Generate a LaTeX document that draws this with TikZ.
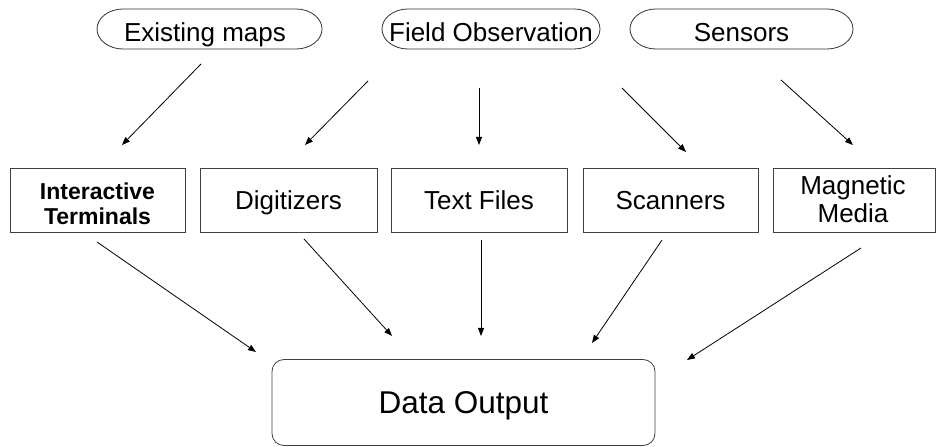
\documentclass[tikz,border=0pt]{standalone}
\usepackage{fontspec}
\setmainfont{Liberation Sans}
\usetikzlibrary{arrows.meta}
\begin{document}
\begin{tikzpicture}[x=1pt,y=1pt,
  lbl/.style={font=\fontsize{26}{30}\selectfont, inner sep=0pt, text height=18.7pt, text depth=0pt},
  srcshape/.style={lbl},
  stage/.style={draw=black!75, line width=0.8pt, minimum height=64pt, inner sep=0pt, align=center, font=\fontsize{26}{30}\selectfont},
  one/.style={text height=18.7pt, text depth=0pt},
  outbox/.style={draw=black!75, line width=0.8pt, rounded corners=12pt, minimum width=383pt, minimum height=86pt, text height=22.6pt, text depth=0pt, font=\fontsize{31.5}{36}\selectfont},
  oval/.style={draw=black!80, line width=0.8pt},
  arr/.style={-{Triangle[length=8pt,width=6pt]}, line width=0.8pt}
]
\useasboundingbox (0,0) rectangle (937,447);
% sources
\node[srcshape] (em) at (205,415) {Existing maps};
\node[srcshape] (fo) at (491,415) {Field Observation};
\node[srcshape] (se) at (741.5,415) {Sensors};
\coordinate (emL) at (97,418); \coordinate (emR) at (322,418);
\coordinate (foL) at (382,418); \coordinate (foR) at (600,418);
\coordinate (seL) at (630,418); \coordinate (seR) at (853,418);
\foreach \n in {em,fo,se}{
  \draw[oval] ([shift={(26pt,20pt)}]\n L) -- ([shift={(-26pt,20pt)}]\n R)
    arc[start angle=90,end angle=-90,x radius=26pt,y radius=20pt]
    -- ([shift={(26pt,-20pt)}]\n L)
    arc[start angle=270,end angle=90,x radius=26pt,y radius=20pt] -- cycle;
}
% stages
\node[stage, minimum width=175pt, font=\fontsize{23}{25}\selectfont\bfseries] (it) at (97.5,247) {};
\node[font=\fontsize{23}{25}\selectfont\bfseries, align=center, inner sep=0pt] (itl) at (97.5,243) {Interactive\\Terminals};
\node[stage, one, minimum width=177pt] (dg) at (288.5,247) {Digitizers};
\node[stage, one, minimum width=176pt] (tf) at (479,247) {Text Files};
\node[stage, one, minimum width=175pt] (sc) at (670.5,247) {Scanners};
\node[stage, minimum width=162pt] (mm) at (854,247) {};
\node[font=\fontsize{26}{28}\selectfont, align=center, inner sep=0pt] (mml) at (853,248) {Magnetic\\Media};
% output
\node[outbox] (out) at (463.5,44.5) {Data Output};
% arrow endpoints
\coordinate (a1s) at (201,383); \coordinate (a1e) at (122,302);
\coordinate (a2s) at (368,366); \coordinate (a2e) at (305,302);
\coordinate (a3s) at (479,359); \coordinate (a3e) at (479,302);
\coordinate (a4s) at (622,359); \coordinate (a4e) at (686,295);
\coordinate (a5s) at (781,367); \coordinate (a5e) at (853,302);
\coordinate (b1s) at (97,205);  \coordinate (b1e) at (256,95);
\coordinate (b2s) at (304,208); \coordinate (b2e) at (392,111);
\coordinate (b3s) at (481,207); \coordinate (b3e) at (481,111);
\coordinate (b4s) at (662,207); \coordinate (b4e) at (592,104);
\coordinate (b5s) at (861,199); \coordinate (b5e) at (687,87);
\foreach \i in {a1,a2,a3,a4,a5,b1,b2,b3,b4,b5}{
  \draw[arr] (\i s) -- (\i e);
}
\end{tikzpicture}
\end{document}
